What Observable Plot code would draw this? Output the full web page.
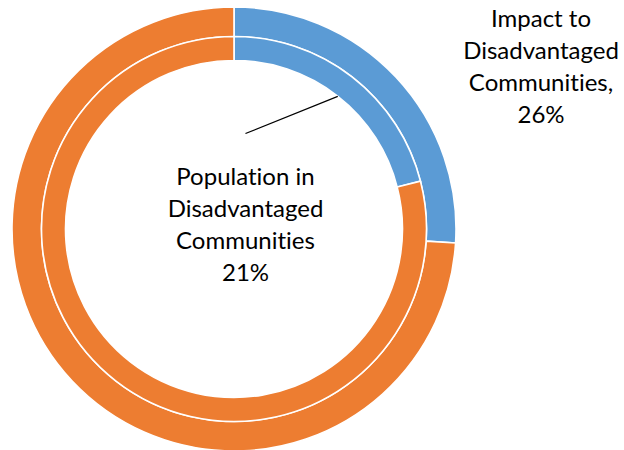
<!DOCTYPE html>
<html><head><meta charset="utf-8">
<script src="https://cdn.jsdelivr.net/npm/d3@7"></script>
<script src="https://cdn.jsdelivr.net/npm/@observablehq/plot@0.6"></script>
<style>body{margin:0;background:#fff}svg{display:block}svg text{font-variant-ligatures:none;font-feature-settings:"liga" 0,"clig" 0}</style>
</head><body><div id="chart"></div>
<script>
// ---- data ----
const categories = ["Disadvantaged Communities", "Other"];
const outerValues = [26, 74];   // Impact to Disadvantaged Communities
const innerValues = [21, 79];   // Population in Disadvantaged Communities
const outerLabel = "Impact to\nDisadvantaged\nCommunities,\n26%";
const innerLabel = "Population in\nDisadvantaged\nCommunities\n21%";

// ---- styling / layout ----
const colors = ["#5B9BD5", "#ED7D31"];
const W = 624, H = 450;
const rings = [
  {name: "outer", values: outerValues, r0: 192.5, r1: 222},
  {name: "inner", values: innerValues, r0: 168.5, r1: 192.5}
];

const pie = d3.pie().sort(null).value(d => d.value);
const arcs = [];
for (const ring of rings) {
  const slices = pie(categories.map((c, i) => ({category: c, value: ring.values[i], color: colors[i]})));
  for (const s of slices) arcs.push({...s, r0: ring.r0, r1: ring.r1, ring: ring.name});
}

// leader line: from label toward the middle of the inner blue slice
const innerBlue = arcs.find(a => a.ring === "inner" && a.index === 0);
const midA = (innerBlue.startAngle + innerBlue.endAngle) / 2;
const midR = (innerBlue.r0 + innerBlue.r1) / 2 - 12;
const leader = [{x1: 11, y1: 96, x2: midR * Math.sin(midA), y2: midR * Math.cos(midA)}];

const fs = 24;
const chart = Plot.plot({
  width: W, height: H,
  margin: 0,
  x: {domain: [-234, W - 234], axis: null},
  y: {domain: [-(H - 229), 229], axis: null},
  style: {background: "#fff", fontFamily: "Lato, 'Open Sans', sans-serif"},
  marks: [
    Plot.dot(arcs, {
      x: () => 0, y: () => 0,
      render: (index, scales, values, dims) => {
        const cx = scales.x(0), cy = scales.y(0);
        const k = scales.x(1) - scales.x(0);
        const g = d3.create("svg:g").attr("transform", `translate(${cx},${cy})`);
        const arcGen = d3.arc();
        for (const i of index) {
          const a = arcs[i];
          g.append("path")
            .attr("d", arcGen({innerRadius: a.r0 * k, outerRadius: a.r1 * k, startAngle: a.startAngle, endAngle: a.endAngle}))
            .attr("fill", a.data.color)
            .attr("stroke", "#fff")
            .attr("stroke-width", 1.6);
        }
        return g.node();
      }
    }),
    Plot.link(leader, {x1: "x1", y1: "y1", x2: "x2", y2: "y2", stroke: "#000", strokeWidth: 1.2}),
    Plot.text([innerLabel], {x: 11, y: 6.4, text: d => d, fontSize: fs, lineHeight: 32 / fs, textAnchor: "middle", lineAnchor: "middle", fill: "#000"}),
    Plot.text([outerLabel], {x: 306.5, y: 164.4, text: d => d, fontSize: fs, lineHeight: 32 / fs, textAnchor: "middle", lineAnchor: "middle", fill: "#000"})
  ]
});
document.getElementById("chart").append(chart);
</script>
</body></html>
